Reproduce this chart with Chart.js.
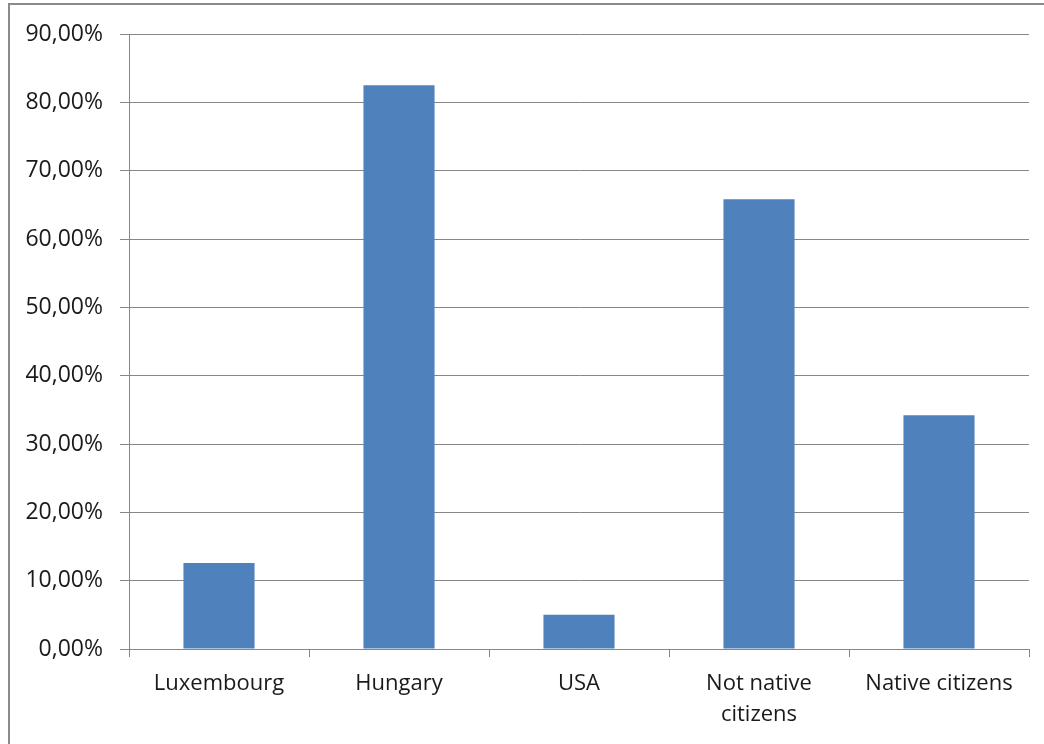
<!DOCTYPE html>
<html>
<head>
<meta charset="utf-8">
<script src="https://cdn.jsdelivr.net/npm/chart.js@4/dist/chart.umd.min.js"></script>
<style>
  html, body { margin: 0; padding: 0; background: #fff; overflow: hidden; }
  canvas { display: block; }
</style>
</head>
<body>
<canvas id="c" width="1044" height="744"></canvas>
<script>
const categories = ["Luxembourg", "Hungary", "USA", ["Not native", "citizens"], "Native citizens"];
const shares = [12.6, 82.5, 5.0, 65.8, 34.2];
const yMin = 0, yMax = 90, yStep = 10;

const FONT = "'Open Sans', 'Noto Sans', sans-serif";
const GRID = '#868686';

const framePlugin = {
  id: 'frame',
  beforeDraw(chart) {
    const ctx = chart.ctx;
    ctx.save();
    ctx.strokeStyle = '#8a8a8a';
    ctx.lineWidth = 2;
    ctx.strokeRect(9, 4, 1200, 900);
    ctx.restore();
  }
};

new Chart(document.getElementById('c'), {
  type: 'bar',
  data: {
    labels: categories,
    datasets: [{
      data: shares,
      backgroundColor: '#4F81BD',
      borderWidth: 0,
      categoryPercentage: 1,
      barPercentage: 0.395
    }]
  },
  plugins: [framePlugin],
  options: {
    responsive: false,
    animation: false,
    devicePixelRatio: 1,
    layout: { padding: { top: 34, right: 15, left: 0, bottom: 0 } },
    plugins: { legend: { display: false }, tooltip: { enabled: false } },
    scales: {
      y: {
        min: yMin, max: yMax,
        afterFit(s) { s.width = 129; },
        ticks: {
          stepSize: yStep,
          padding: 17,
          color: '#1a1a1a',
          font: { family: FONT, size: 23 },
          callback: v => v.toFixed(2).replace('.', ',') + '%'
        },
        grid: { color: GRID, lineWidth: 1, tickLength: 9, drawTicks: true },
        border: { color: GRID, width: 1 }
      },
      x: {
        afterFit(s) { s.height = 95; },
        ticks: {
          padding: 11,
          color: '#1a1a1a',
          font: { family: FONT, size: 22, lineHeight: 1.42 },
          maxRotation: 0, autoSkip: false
        },
        grid: { color: GRID, lineWidth: 1, drawOnChartArea: false, tickLength: 8, offset: true },
        border: { color: GRID, width: 1 }
      }
    }
  }
});
</script>
</body>
</html>
